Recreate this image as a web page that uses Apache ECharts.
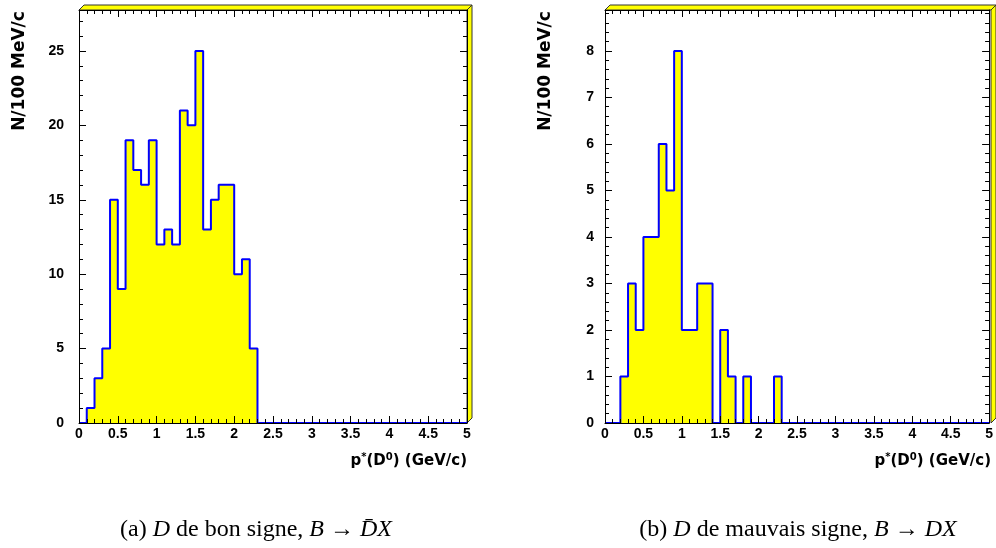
<!DOCTYPE html>
<html><head><meta charset="utf-8">
<script src="https://cdn.jsdelivr.net/npm/echarts@6/dist/echarts.min.js"></script>
<style>html,body{margin:0;padding:0;background:#fff}#c{width:996px;height:548px}</style>
</head><body><div id="c"></div>
<script>
// ---- data ----
const binWidth = 0.1;
const xMin = 0, xMax = 5;
const goodSignValues = [0,1,3,5,15,9,19,17,16,19,12,13,12,21,20,25,13,15,16,16,10,11,5,
  0,0,0,0,0,0,0,0,0,0,0,0,0,0,0,0,0,0,0,0,0,0,0,0,0,0,0];
const wrongSignValues = [0,0,1,3,2,4,4,6,5,8,2,2,3,3,0,2,1,0,1,0,0,0,1,
  0,0,0,0,0,0,0,0,0,0,0,0,0,0,0,0,0,0,0,0,0,0,0,0,0,0,0];
const yAxisTitle = 'N/100 MeV/c';
const xAxisTitle = 'p{sup|*}(D{sup|0}) (GeV/c)';
const captions = ['(a) {i|D} de bon signe, {i|B} \u2192 {i|D\u0304X}', '(b) {i|D} de mauvais signe, {i|B} \u2192 {i|DX}'];
const yMaxes = [27.75, 8.88];
const yMajor = [5, 1];
const yMinor = [1, 0.2];

// ---- layout ----
const grids = [
  {left: 79, top: 10, width: 388, height: 413},
  {left: 605, top: 10, width: 386, height: 413}
];
const labelMargins = [15, 11];
const TICKFONT = 'Liberation Sans, Helvetica, Arial, sans-serif';
const TITLEFONT = 'DejaVu Sans, Liberation Sans, sans-serif';
const SERIF = 'Liberation Serif, Times New Roman, serif';

function stepData(vals){
  const d = vals.map((v,i)=>[Math.round(i*binWidth*1000)/1000, v]);
  d.push([xMax, vals[vals.length-1]]);
  return d;
}

const black = '#000';
const xAxes = [], yAxes = [], series = [], graphic = [];
grids.forEach((g, gi) => {
  const common = {gridIndex: gi, type: 'value', min: xMin, max: xMax, interval: 0.5, z: 3,
    splitLine: {show: false},
    axisLine: {show: true, onZero: false, lineStyle: {color: black, width: 1}},
    axisTick: {show: true, inside: true, length: 7, lineStyle: {color: black, width: 1}},
    minorTick: {show: true, splitNumber: 5, length: 4, lineStyle: {color: black, width: 1}}};
  xAxes.push(Object.assign({}, common, {position: 'bottom',
    axisLabel: {show: true, color: black, fontFamily: TICKFONT, fontWeight: 'bold', fontSize: 14, margin: 4}}));
  xAxes.push(Object.assign({}, common, {position: 'top', axisLabel: {show: false}}));
  const ycommon = {gridIndex: gi, type: 'value', min: 0, max: yMaxes[gi], z: 3, splitLine: {show: false}};
  yAxes.push(Object.assign({}, ycommon, {position: 'left', interval: yMajor[gi],
    axisLine: {show: true, onZero: false, lineStyle: {color: black, width: 1}},
    axisTick: {show: true, inside: true, length: 7, lineStyle: {color: black}},
    axisLabel: {show: true, showMaxLabel: false, color: black, fontFamily: TICKFONT, fontWeight: 'bold', fontSize: 14, margin: labelMargins[gi]}}));
  yAxes.push(Object.assign({}, ycommon, {position: 'left', interval: yMinor[gi],
    axisLine: {show: false, onZero: false}, axisTick: {show: true, inside: true, length: 4, lineStyle: {color: black}},
    axisLabel: {show: false}}));
  yAxes.push(Object.assign({}, ycommon, {position: 'right', interval: yMajor[gi],
    axisLine: {show: true, onZero: false, lineStyle: {color: black, width: 1}},
    axisTick: {show: true, inside: true, length: 7, lineStyle: {color: black}},
    axisLabel: {show: false}}));
  yAxes.push(Object.assign({}, ycommon, {position: 'right', interval: yMinor[gi],
    axisLine: {show: false, onZero: false}, axisTick: {show: true, inside: true, length: 4, lineStyle: {color: black}},
    axisLabel: {show: false}}));

  series.push({type: 'line', xAxisIndex: gi*2, yAxisIndex: gi*4, step: 'end',
    data: stepData(gi === 0 ? goodSignValues : wrongSignValues),
    showSymbol: false, symbol: 'none', animation: false, z: 2,
    lineStyle: {color: '#0000ff', width: 2},
    areaStyle: {color: '#ffff00', opacity: 1}});

  // 3D frame shadow (decoration)
  const x0 = g.left, x1 = g.left + g.width, y0 = g.top, y1 = g.top + g.height, d = 5;
  graphic.push({type: 'polygon', z: 1, shape: {points: [[x0, y0], [x0 + d, y0 - d], [x1 + d, y0 - d], [x1, y0]]},
    style: {fill: '#ffff00', stroke: '#333', lineWidth: 1}});
  graphic.push({type: 'polygon', z: 1, shape: {points: [[x1, y0], [x1 + d, y0 - d], [x1 + d, y1 - d], [x1, y1]]},
    style: {fill: '#ffff00', stroke: '#333', lineWidth: 1}});

  graphic.push({type: 'text', x: g.left - 59, y: 71, rotation: Math.PI/2,
    style: {text: yAxisTitle, fontFamily: TITLEFONT, fontSize: 17, fontWeight: 'bold', fill: black,
      align: 'center', verticalAlign: 'middle'}});
  graphic.push({type: 'text', x: x1, y: 461,
    style: {text: xAxisTitle, fontFamily: TITLEFONT, fontSize: 15, fontWeight: 'bold', fill: black,
      align: 'right', verticalAlign: 'middle',
      rich: {sup: {fontFamily: TITLEFONT, fontSize: 10, fontWeight: 'bold', fill: black, verticalAlign: 'top', lineHeight: 17}}}});
  graphic.push({type: 'text', x: gi === 0 ? 256 : 798, y: 530,
    style: {text: captions[gi], fontFamily: SERIF, fontSize: 24, fill: black,
      align: 'center', verticalAlign: 'middle',
      rich: {i: {fontFamily: SERIF, fontSize: 24, fontStyle: 'italic', fill: black}}}});
});

const chart = echarts.init(document.getElementById('c'), null, {renderer: 'canvas'});
chart.setOption({
  animation: false,
  backgroundColor: '#fff',
  grid: grids.map(g => Object.assign({containLabel: false}, g)),
  xAxis: xAxes, yAxis: yAxes, series: series, graphic: graphic
});
</script></body></html>
